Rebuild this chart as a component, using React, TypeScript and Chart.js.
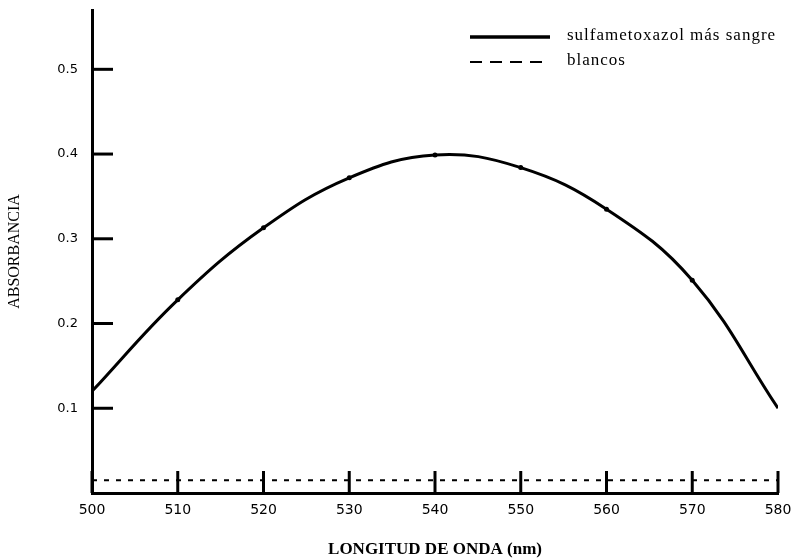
import React, { useEffect, useRef } from 'react';
import { Chart, registerables } from 'chart.js';

Chart.register(...registerables);

const WAVELENGTHS = [500, 510, 520, 530, 540, 550, 560, 570, 580];
const SULFA = [0.12, 0.228, 0.313, 0.372, 0.399, 0.384, 0.335, 0.251, 0.1];
const BLANCOS = [0.015, 0.015, 0.015, 0.015, 0.015, 0.015, 0.015, 0.015, 0.015];
const X_TICKS = [500, 510, 520, 530, 540, 550, 560, 570, 580];
const Y_TICKS = [0.1, 0.2, 0.3, 0.4, 0.5];
const SERIES_LABELS = ['sulfametoxazol más sangre', 'blancos'];
const X_TITLE = 'LONGITUD DE ONDA (nm)';
const Y_TITLE = 'ABSORBANCIA';

const W = 795;
const H = 560;

const inwardTicksAndLegend = {
  id: 'inwardTicksAndLegend',
  afterDraw(chart: any) {
    const { ctx, chartArea, scales } = chart;
    const x = scales.x;
    const y = scales.y;
    ctx.save();
    ctx.strokeStyle = '#000';
    ctx.lineWidth = 3;
    ctx.lineCap = 'butt';
    x.ticks.forEach((t: any) => {
      const px = x.getPixelForValue(t.value);
      ctx.beginPath();
      ctx.moveTo(px, chartArea.bottom);
      ctx.lineTo(px, chartArea.bottom - 22);
      ctx.stroke();
    });
    y.ticks.forEach((t: any) => {
      const py = y.getPixelForValue(t.value);
      ctx.beginPath();
      ctx.moveTo(chartArea.left, py);
      ctx.lineTo(chartArea.left + 21, py);
      ctx.stroke();
    });

    // legend
    const lx0 = 470;
    const lx1 = 550;
    const tx = 567;
    const rows = [37, 62];
    chart.data.datasets.forEach((ds: any, i: number) => {
      const ry = rows[i];
      ctx.beginPath();
      ctx.lineWidth = i === 0 ? 3.5 : 2;
      ctx.setLineDash(i === 0 ? [] : [12, 8]);
      ctx.moveTo(lx0, ry);
      ctx.lineTo(lx1, ry);
      ctx.stroke();
      ctx.setLineDash([]);
      ctx.fillStyle = '#000';
      ctx.font = '17px "Liberation Serif"';
      (ctx as any).letterSpacing = '1px';
      ctx.textBaseline = 'middle';
      ctx.textAlign = 'left';
      ctx.fillText(ds.label, tx, ry - 1);
      (ctx as any).letterSpacing = '0px';
    });
    ctx.restore();
  },
};

export default function App() {
  const ref = useRef<HTMLCanvasElement>(null);

  useEffect(() => {
    if (!ref.current) return;
    const last = WAVELENGTHS.length - 1;
    const chart = new Chart(ref.current, {
      type: 'line',
      data: {
        datasets: [
          {
            label: SERIES_LABELS[0],
            data: WAVELENGTHS.map((w, i) => ({ x: w, y: SULFA[i] })),
            borderColor: '#000',
            backgroundColor: '#000',
            borderWidth: 3,
            tension: 0.4,
            pointRadius: (c: any) => (c.dataIndex === 0 || c.dataIndex === last ? 0 : 2.5),
            pointBackgroundColor: '#000',
            pointBorderWidth: 0,
            fill: false,
          },
          {
            label: SERIES_LABELS[1],
            data: WAVELENGTHS.map((w, i) => ({ x: w, y: BLANCOS[i] })),
            borderColor: '#000',
            borderWidth: 2,
            borderDash: [5, 7],
            pointRadius: 0,
            fill: false,
          },
        ],
      },
      options: {
        responsive: false,
        animation: false,
        layout: { padding: { top: 10, right: 17, left: 0, bottom: 0 } },
        plugins: {
          legend: { display: false },
          tooltip: { enabled: false },
        },
        scales: {
          x: {
            type: 'linear',
            min: 500,
            max: 580,
            afterBuildTicks: (s: any) => {
              s.ticks = X_TICKS.map((v) => ({ value: v }));
            },
            afterFit: (s: any) => {
              s.height = 67;
              s.paddingLeft = 0;
              s.paddingRight = 0;
            },
            grid: { display: false, drawTicks: false },
            border: { display: true, color: '#000', width: 3 },
            ticks: {
              color: '#000',
              padding: 9,
              maxRotation: 0,
              autoSkip: false,
              font: { family: '"DejaVu Sans"', size: 14 },
              callback: (v: any) => String(v),
            },
            title: {
              display: true,
              text: X_TITLE,
              color: '#000',
              font: { family: '"Liberation Serif"', size: 17, weight: 'bold' },
              padding: { top: 0, bottom: 0 },
            },
          },
          y: {
            type: 'linear',
            min: 0,
            max: 0.57,
            afterBuildTicks: (s: any) => {
              s.ticks = Y_TICKS.map((v) => ({ value: v }));
            },
            afterFit: (s: any) => {
              s.width = 92;
              s.paddingTop = 0;
              s.paddingBottom = 0;
            },
            grid: { display: false, drawTicks: false },
            border: { display: true, color: '#000', width: 3 },
            ticks: {
              color: '#000',
              padding: 14,
              font: { family: '"DejaVu Sans"', size: 13 },
              callback: (v: any) => Number(v).toFixed(1),
            },
            title: {
              display: true,
              text: Y_TITLE,
              color: '#000',
              font: { family: '"Liberation Serif"', size: 16 },
              padding: { top: 5, bottom: 0 },
            },
          },
        },
      },
      plugins: [inwardTicksAndLegend],
    });
    return () => chart.destroy();
  }, []);

  return (
    <canvas
      ref={ref}
      width={W}
      height={H}
      style={{ position: 'fixed', left: 0, top: 0, width: W, height: H, background: '#fff' }}
    />
  );
}
